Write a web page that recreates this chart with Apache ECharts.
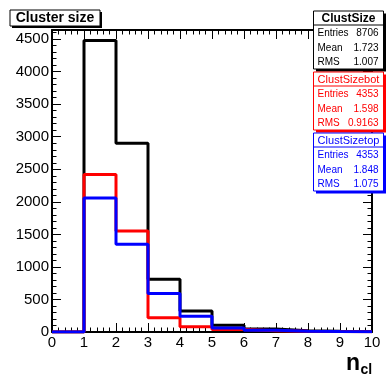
<!DOCTYPE html>
<html><head><meta charset="utf-8">
<script src="https://cdn.jsdelivr.net/npm/echarts@6/dist/echarts.min.js"></script>
<style>html,body{margin:0;padding:0;background:#fff}#c{width:392px;height:389px}</style>
</head><body><div id="c"></div>
<script>
// ---- data ----
const binEdges = [0, 1, 2, 3, 4, 5, 6, 7, 8, 9, 10];
const clustSize    = [0, 4480, 2900, 810, 322, 103, 45, 20, 12, 8];
const clustSizeBot = [0, 2420, 1550, 220, 80, 40, 20, 10, 6, 4];
const clustSizeTop = [0, 2060, 1350, 590, 242, 63, 25, 10, 6, 4];
const statNames   = ['ClustSize', 'ClustSizebot', 'ClustSizetop'];
const statEntries = ['8706', '4353', '4353'];
const statMean    = ['1.723', '1.598', '1.848'];
const statRMS     = ['1.007', '0.9163', '1.075'];
const titleText = 'Cluster size';

// ---- chart ----
const FONT = '"Liberation Sans", Arial, sans-serif';
const colors = ['#000000', '#ff0000', '#0000ff'];
const X_MAX = 10, Y_MAX = 4640;

function steps(vals) {
  return binEdges.map((e, i) => [e, vals[Math.min(i, vals.length - 1)]]);
}

function xAx(pos, interval, len, labels, line) {
  return {
    type: 'value', position: pos, min: 0, max: X_MAX, interval: interval,
    axisLine: { show: line, onZero: false, lineStyle: { color: '#000', width: 2 } },
    axisTick: { show: true, inside: true, length: len, lineStyle: { color: '#000', width: 1 } },
    axisLabel: { show: labels, color: '#000', fontSize: 15, fontFamily: FONT, margin: 3, showMaxLabel: true,
                 formatter: v => String(v) },
    splitLine: { show: false }
  };
}
function yAx(pos, interval, len, labels, line) {
  return {
    type: 'value', position: pos, min: 0, max: Y_MAX, interval: interval,
    axisLine: { show: line, onZero: false, lineStyle: { color: '#000', width: 2 } },
    axisTick: { show: true, inside: true, length: len, lineStyle: { color: '#000', width: 1 } },
    axisLabel: { show: labels, color: '#000', fontSize: 15, fontFamily: FONT, margin: 3, showMaxLabel: false,
                 formatter: v => String(v) },
    splitLine: { show: false }
  };
}

const graphics = [];
// title box
graphics.push({ type: 'rect', z: 100, shape: { x: 12, y: 12, width: 90, height: 16 }, style: { fill: '#000' } });
graphics.push({ type: 'rect', z: 101, shape: { x: 10, y: 10, width: 90, height: 16 }, style: { fill: '#fff', stroke: '#000', lineWidth: 1 } });
graphics.push({ type: 'text', z: 102, x: 55, y: 18, style: { text: titleText, fill: '#000', font: 'bold 14px ' + FONT, align: 'center', verticalAlign: 'middle' } });

// stats boxes
const boxTops = [11, 72, 133];
const boxL = 313.5, boxW = 70, boxH = 58, hdrH = 14;
statNames.forEach((nm, k) => {
  const c = colors[k], t = boxTops[k];
  graphics.push({ type: 'rect', z: 100, shape: { x: boxL + 2.5, y: t + 2.5, width: boxW, height: boxH }, style: { fill: c } });
  graphics.push({ type: 'rect', z: 101, shape: { x: boxL, y: t, width: boxW, height: boxH }, style: { fill: '#fff', stroke: c, lineWidth: 1 } });
  graphics.push({ type: 'line', z: 102, shape: { x1: boxL, y1: t + hdrH, x2: boxL + boxW, y2: t + hdrH }, style: { stroke: c, lineWidth: 1 } });
  graphics.push({ type: 'text', z: 103, x: boxL + boxW / 2, y: t + 7.5, style: { text: nm, fill: c, font: (k === 0 ? 'bold 12px ' : '11px ') + FONT, align: 'center', verticalAlign: 'middle' } });
  const rows = [['Entries', statEntries[k]], ['Mean', statMean[k]], ['RMS', statRMS[k]]];
  rows.forEach((r, j) => {
    const yy = t + 22.5 + j * 14.5;
    graphics.push({ type: 'text', z: 103, x: boxL + 4, y: yy, style: { text: r[0], fill: c, font: '10px ' + FONT, align: 'left', verticalAlign: 'middle' } });
    graphics.push({ type: 'text', z: 103, x: boxL + 65, y: yy, style: { text: r[1], fill: c, font: '10px ' + FONT, align: 'right', verticalAlign: 'middle' } });
  });
});
// axis title n_cl
graphics.push({ type: 'text', z: 103, x: 346, y: 363.5, style: { text: 'n', fill: '#000', font: 'bold 23px ' + FONT, align: 'left', verticalAlign: 'middle' } });
graphics.push({ type: 'text', z: 103, x: 360.5, y: 370, style: { text: 'cl', fill: '#000', font: 'bold 14px ' + FONT, align: 'left', verticalAlign: 'middle' } });

const seriesData = [clustSize, clustSizeBot, clustSizeTop];
const chart = echarts.init(document.getElementById('c'), null, { renderer: 'canvas' });
chart.setOption({
  animation: false,
  backgroundColor: '#fff',
  grid: { left: 52, right: 20, top: 30, bottom: 57, containLabel: false },
  xAxis: [
    xAx('bottom', 1, 9, true, true),
    xAx('bottom', 0.2, 4.5, false, false),
    xAx('top', 1, 9, false, true),
    xAx('top', 0.2, 4.5, false, false)
  ],
  yAxis: [
    yAx('left', 500, 9, true, true),
    yAx('left', 100, 4.5, false, false),
    yAx('right', 500, 9, false, true),
    yAx('right', 100, 4.5, false, false)
  ],
  series: seriesData.map((vals, k) => ({
    type: 'line', name: statNames[k], xAxisIndex: 0, yAxisIndex: 0,
    step: 'end', symbol: 'none', data: steps(vals),
    lineStyle: { color: colors[k], width: 3 }, z: 10 + k, clip: true
  })),
  graphic: graphics
});
</script>
</body></html>
